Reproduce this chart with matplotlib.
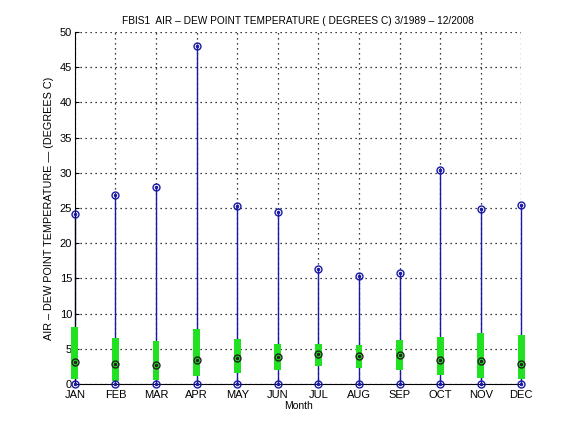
import matplotlib
matplotlib.use("Agg")
import matplotlib.pyplot as plt
import numpy as np

months = ["JAN", "FEB", "MAR", "APR", "MAY", "JUN", "JUL", "AUG", "SEP", "OCT", "NOV", "DEC"]
max_vals = [24.1, 26.9, 28.0, 48.0, 25.3, 24.4, 16.3, 15.4, 15.7, 30.4, 24.85, 25.4]
min_vals = [0, 0, 0, 0, 0, 0, 0, 0, 0, 0, 0, 0]
q_low = [0.66, 0.47, 0.57, 1.2, 1.6, 2.0, 2.6, 2.3, 2.0, 1.3, 0.8, 0.66]
q_high = [8.1, 6.5, 6.1, 7.8, 6.4, 5.7, 5.7, 5.5, 6.25, 6.7, 7.2, 6.9]
medians = [3.2, 2.9, 2.75, 3.4, 3.75, 3.8, 4.2, 4.0, 4.1, 3.4, 3.3, 2.85]

plt.rcParams['font.family'] = ['Liberation Sans', 'DejaVu Sans']
fig = plt.figure(figsize=(5.76, 4.32), dpi=100)
ax = fig.add_axes([0.13, 0.111, 0.775, 0.815])

x = np.arange(1, 13)
blue = '#1a1aa8'
green = '#22e022'

ax.vlines(x, min_vals, max_vals, color=blue, lw=1.0, zorder=2, clip_on=False)
ax.bar(x, np.array(q_high) - np.array(q_low), bottom=q_low, width=0.17,
       color=green, edgecolor='none', zorder=3, clip_on=False)
for vals, col in [(max_vals, blue), (min_vals, blue), (medians, '#202020')]:
    ax.plot(x, vals, 'o', mfc='none', mec=col, ms=5, mew=1.0, zorder=4, clip_on=False)
    ax.plot(x, vals, '.', color=col, ms=3, zorder=4, clip_on=False)

ax.set_xlim(1, 12)
ax.set_ylim(0, 50)
ax.set_xticks(x)
ax.set_xticklabels(months)
ax.set_yticks(np.arange(0, 51, 5))
ax.tick_params(direction='in', labelsize=8, length=3, pad=2)
ax.tick_params(axis='x', pad=4)
ax.grid(True, linestyle=(0, (1, 3)), color='black', lw=0.9)
ax.set_axisbelow(True)
for s in ['top', 'right']:
    ax.spines[s].set_visible(False)
ax.set_xlabel('Month', fontsize=7.5, labelpad=1)
ax.set_ylabel('AIR \u2013 DEW POINT TEMPERATURE \u2014 (DEGREES C)', fontsize=7.8, labelpad=4)
ax.set_title('FBIS1  AIR \u2013 DEW POINT TEMPERATURE ( DEGREES C) 3/1989 \u2013 12/2008', fontsize=7.3, pad=6)

fig.savefig('out.png', dpi=100)
